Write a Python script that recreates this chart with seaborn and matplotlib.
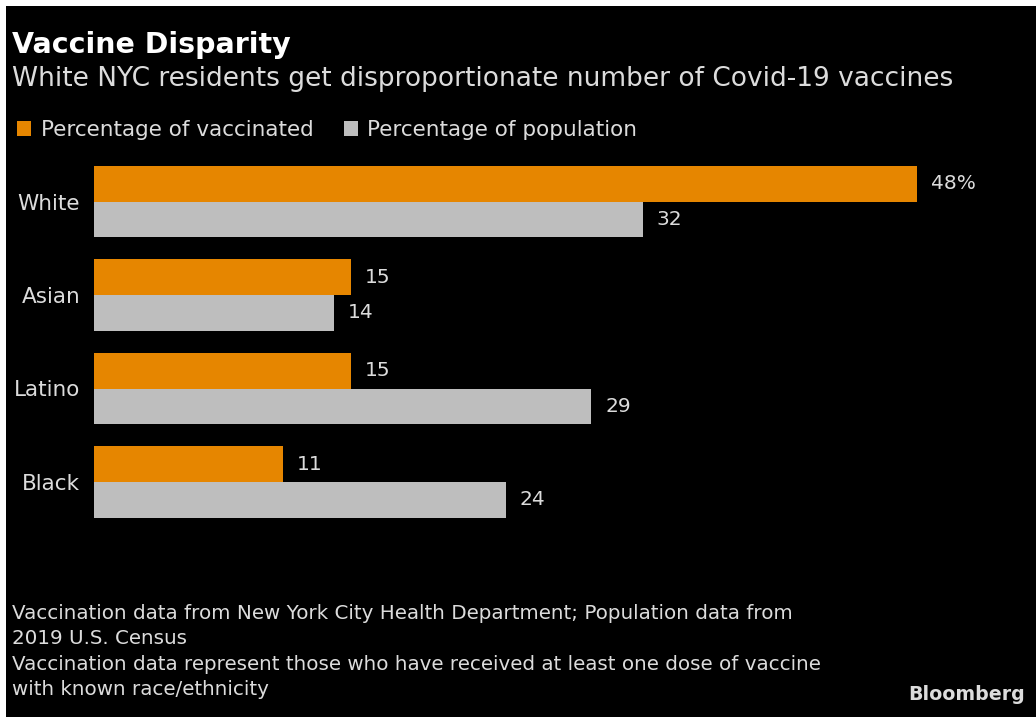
import matplotlib
matplotlib.use("Agg")
import matplotlib.pyplot as plt
import matplotlib.patches as mpatches
import seaborn as sns
import pandas as pd

categories = ["White", "Asian", "Latino", "Black"]
vaccinated = [48, 15, 15, 11]
population = [32, 14, 29, 24]
series_names = ["Percentage of vaccinated", "Percentage of population"]

title = "Vaccine Disparity"
subtitle = "White NYC residents get disproportionate number of Covid-19 vaccines"
footnote = ("Vaccination data from New York City Health Department; Population data from\n"
            "2019 U.S. Census\n"
            "Vaccination data represent those who have received at least one dose of vaccine\n"
            "with known race/ethnicity")
source = "Bloomberg"

ORANGE = "#E68600"
GRAY = "#BEBEBE"
TXT = "#DCDCDC"

df = pd.DataFrame({
    "group": categories * 2,
    "value": vaccinated + population,
    "series": [series_names[0]] * len(categories) + [series_names[1]] * len(categories),
})

sns.set_theme(style="dark")
plt.rcParams["font.family"] = ["DejaVu Sans"]

W, H = 1036, 717
fig = plt.figure(figsize=(W / 100, H / 100), dpi=100, facecolor="white")
# black card with thin white margin on top/left
fig.patches.append(mpatches.Rectangle((6 / W, 0), 1 - 6 / W, 1 - 6 / H,
                                      transform=fig.transFigure, facecolor="black",
                                      edgecolor="none", zorder=-10))

ax_left, ax_right = 94, 917
ax_top, ax_bot = 154.75, 528.75
ax = fig.add_axes([ax_left / W, 1 - ax_bot / H, (ax_right - ax_left) / W, (ax_bot - ax_top) / H])
ax.set_facecolor("none")
ax.patch.set_alpha(0)

sns.barplot(data=df, y="group", x="value", hue="series", orient="h",
            palette=[ORANGE, GRAY], width=0.76, ax=ax, legend=False,
            order=categories, hue_order=series_names, saturation=1,
            linewidth=0, edgecolor="none")

ax.set_xlim(0, 48)
ax.set_ylim(3.5, -0.5)
ax.set_xlabel("")
ax.set_ylabel("")
ax.set_xticks([])
ax.grid(False)
for s in ax.spines.values():
    s.set_visible(False)
ax.tick_params(axis="y", length=0, pad=10, labelsize=15.5, labelcolor=TXT)

for i, cont in enumerate(ax.containers):
    vals = vaccinated if i == 0 else population
    labels = [f"{v}%" if (i == 0 and j == 0) else f"{v}" for j, v in enumerate(vals)]
    ax.bar_label(cont, labels=labels, padding=10, color=TXT, fontsize=14.5)

fig.text(12 / W, 1 - 45 / H, title, color="white", fontsize=20.5, fontweight="bold",
         va="center", ha="left")
fig.text(12 / W, 1 - 79 / H, subtitle, color=TXT, fontsize=19, va="center", ha="left")

handles = [mpatches.Patch(facecolor=ORANGE, edgecolor="none", linewidth=0),
           mpatches.Patch(facecolor=GRAY, edgecolor="none", linewidth=0)]
fig.legend(handles, series_names, loc="center left", bbox_to_anchor=(17 / W, 1 - 130 / H),
           ncol=2, frameon=False, handlelength=0.65, handleheight=0.7, handletextpad=0.45,
           columnspacing=1.4, fontsize=15.5, labelcolor=TXT, borderaxespad=0, borderpad=0)

fig.text(12 / W, 1 - 604 / H, footnote, color=TXT, fontsize=14.3, va="top", ha="left",
         linespacing=1.42)
fig.text(1025 / W, 1 - 695 / H, source, color=TXT, fontsize=13.7, fontweight="bold",
         va="center", ha="right")

fig.savefig("out.png", dpi=100, facecolor="white")
